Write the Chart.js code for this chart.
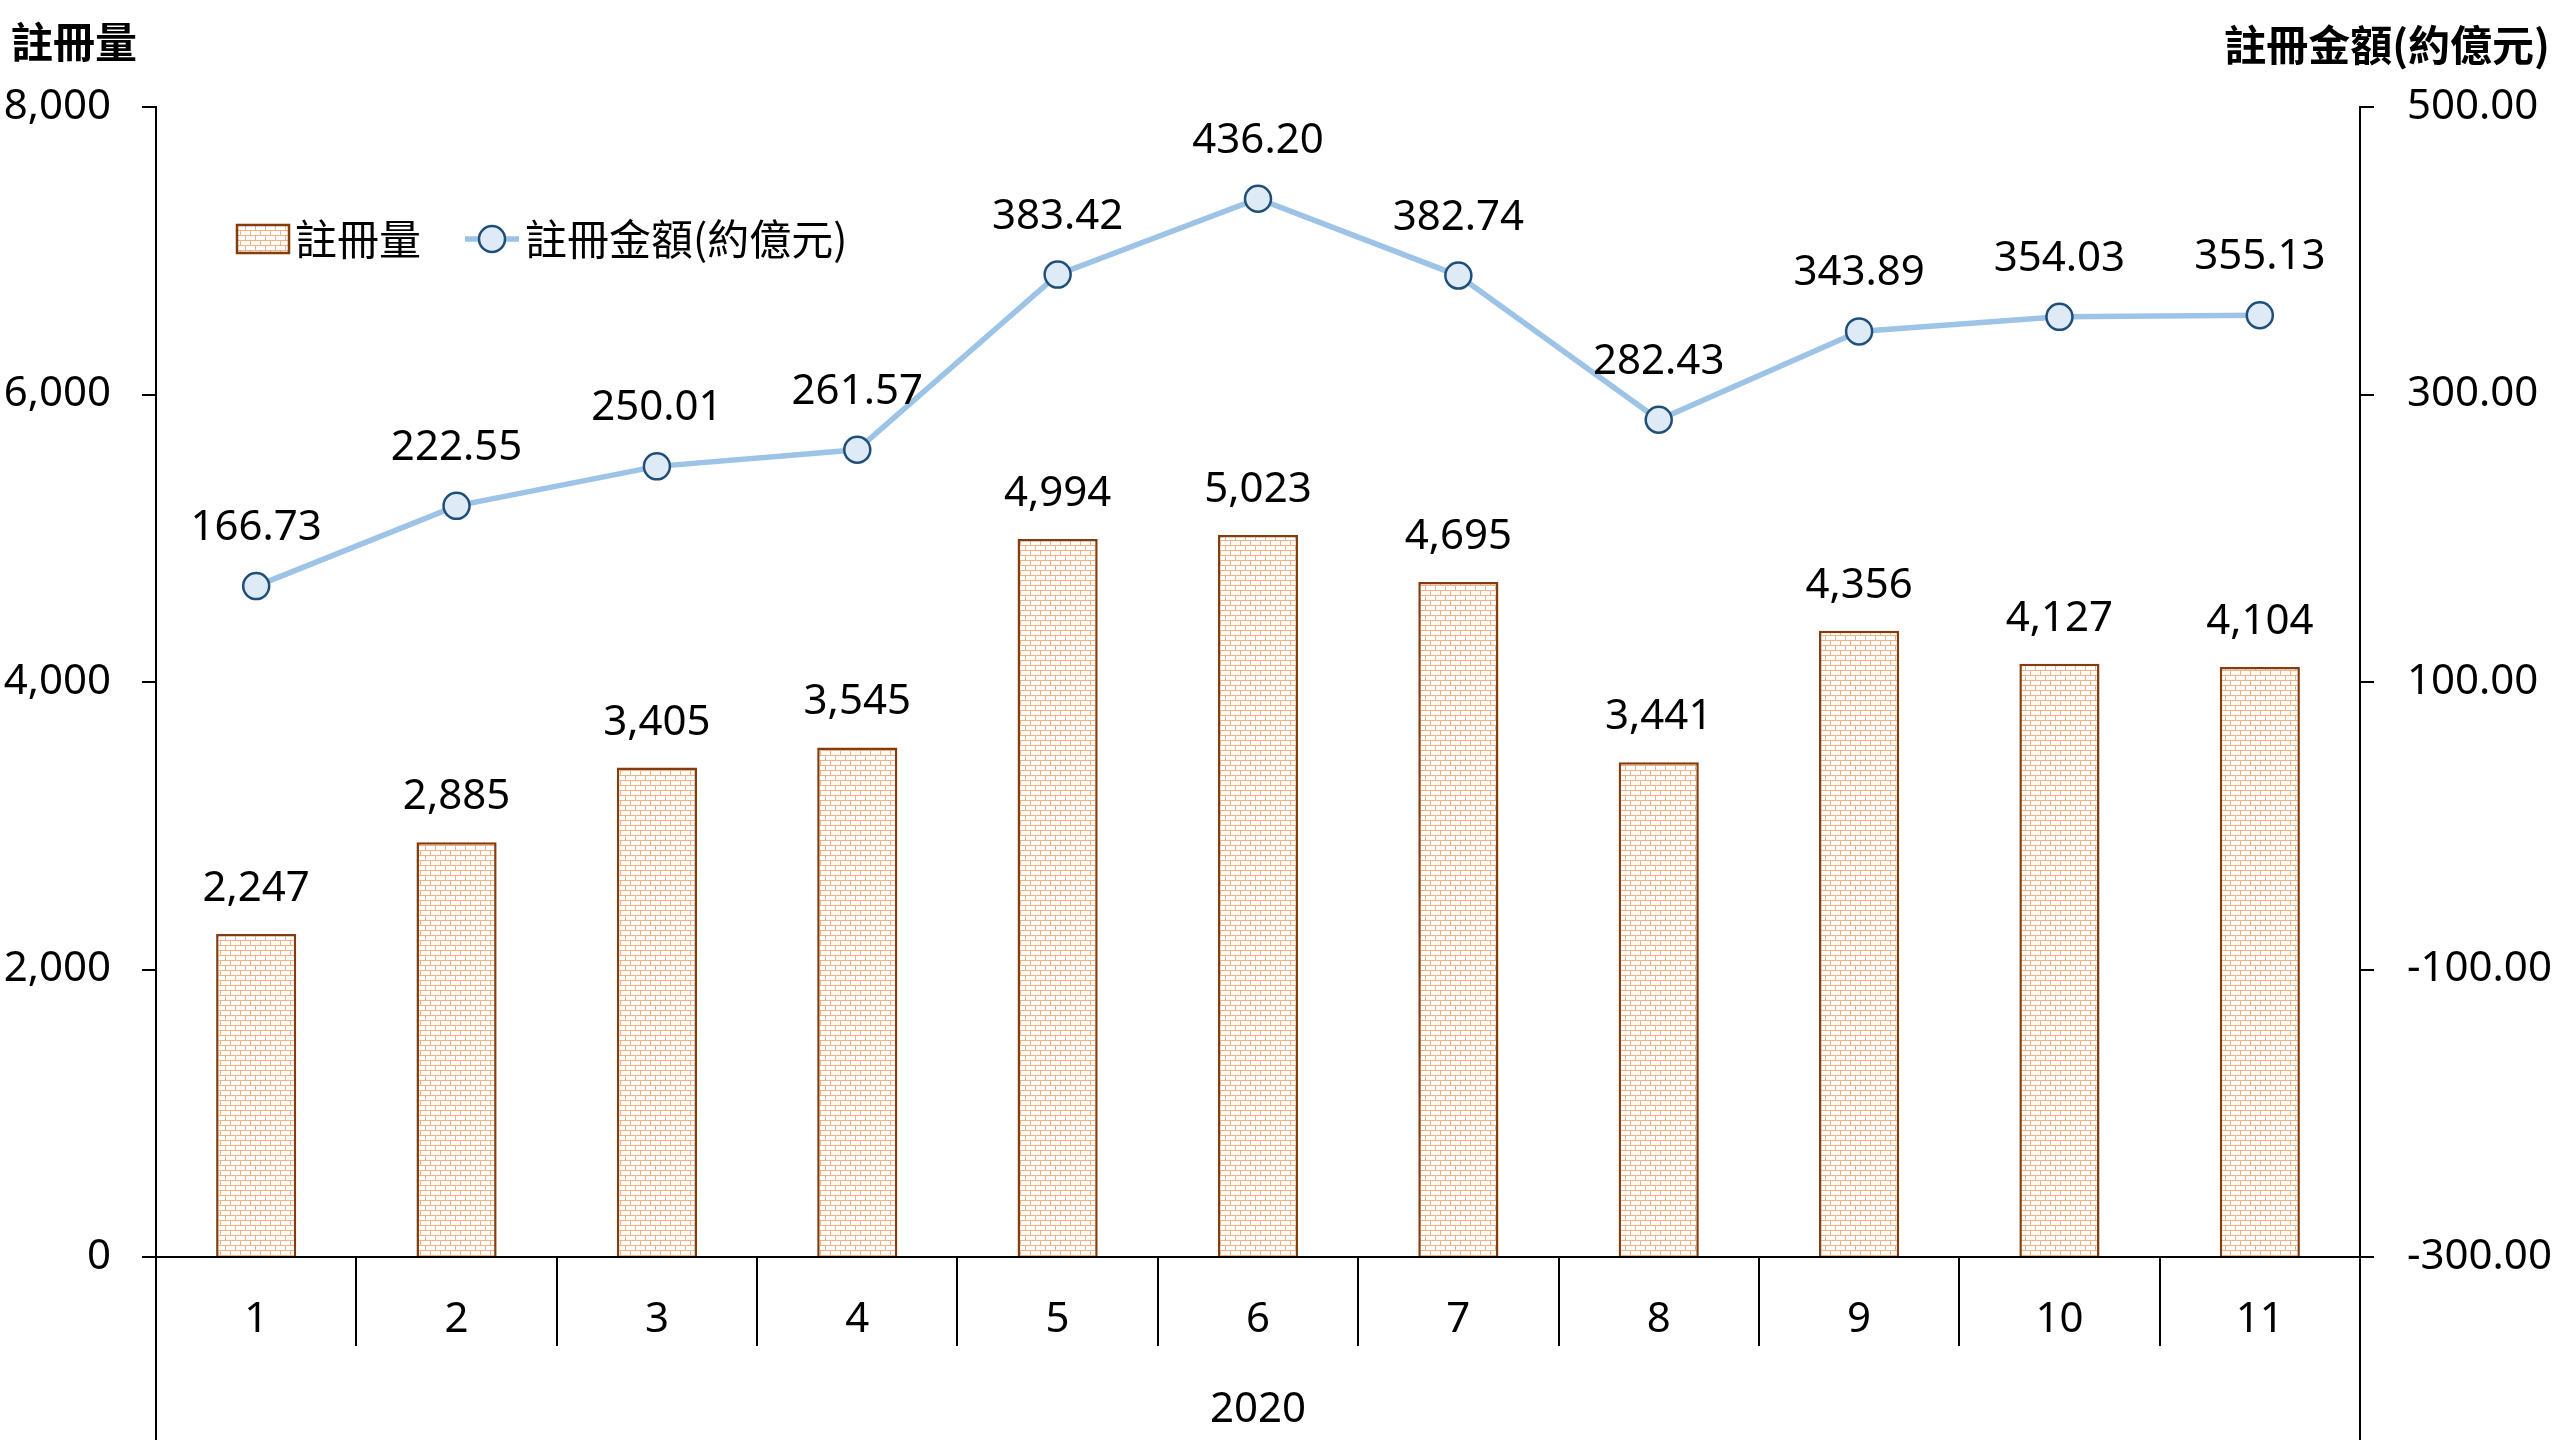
<!DOCTYPE html>
<html>
<head>
<meta charset="utf-8">
<script src="https://cdn.jsdelivr.net/npm/chart.js@4.4.1/dist/chart.umd.min.js"></script>
<style>
html,body{margin:0;padding:0;background:#ffffff;}
canvas{display:block;}
</style>
</head>
<body>
<canvas id="c" width="2560" height="1440"></canvas>
<script>
// ---- data ----
const categories = ['1','2','3','4','5','6','7','8','9','10','11'];
const groupLabel = '2020';
const registrations = [2247, 2885, 3405, 3545, 4994, 5023, 4695, 3441, 4356, 4127, 4104];
const amounts = [166.73, 222.55, 250.01, 261.57, 383.42, 436.20, 382.74, 282.43, 343.89, 354.03, 355.13];
const leftTicks = [0, 2000, 4000, 6000, 8000];
const rightTicks = [-300, -100, 100, 300, 500];
const seriesNames = ['註冊量', '註冊金額(約億元)'];
const axisTitles = ['註冊量', '註冊金額(約億元)'];

// ---- styles ----
const FONT_FAMILY = "'Noto Sans', 'Noto Sans CJK TC', sans-serif";
const CJK_FAMILY = "'Noto Sans CJK TC', 'Noto Sans', sans-serif";
const LINE_COLOR = '#9DC3E6';
const POINT_FILL = '#DEEBF7';
const POINT_BORDER = '#1F4E79';
const BAR_BORDER = '#843C0C';
const BRICK_COLOR = '#F4B183';

const canvas = document.getElementById('c');
const ctx = canvas.getContext('2d');

function brickPattern() {
  const c = document.createElement('canvas');
  c.width = 10; c.height = 10;
  const g = c.getContext('2d');
  g.fillStyle = '#ffffff';
  g.fillRect(0, 0, 10, 10);
  g.strokeStyle = BRICK_COLOR;
  g.lineWidth = 1;
  g.beginPath();
  g.moveTo(0, 0.5); g.lineTo(10, 0.5);
  g.moveTo(0, 5.5); g.lineTo(10, 5.5);
  g.moveTo(0.5, 0); g.lineTo(0.5, 5);
  g.moveTo(5.5, 5); g.lineTo(5.5, 10);
  g.stroke();
  return ctx.createPattern(c, 'repeat');
}
const pattern = brickPattern();

const tickFont = { family: FONT_FAMILY, size: 42, lineHeight: 1.2 };

function fmtInt(v) { return v.toLocaleString('en-US'); }
function fmtDec(v) { return v.toFixed(2); }

const dataLabelPlugin = {
  id: 'dataLabels',
  afterDatasetsDraw(chart) {
    const c = chart.ctx;
    c.save();
    c.font = `42px ${FONT_FAMILY}`;
    c.fillStyle = '#000';
    c.textAlign = 'center';
    c.textBaseline = 'middle';
    chart.data.datasets.forEach((ds, i) => {
      const meta = chart.getDatasetMeta(i);
      meta.data.forEach((el, j) => {
        if (ds.type === 'bar') {
          c.fillText(fmtInt(ds.data[j]), el.x, el.y - 45);
        } else {
          c.fillText(fmtDec(ds.data[j]), el.x, el.y - 58);
        }
      });
    });
    c.restore();
  }
};

const decorPlugin = {
  id: 'decor',
  afterDraw(chart) {
    const c = chart.ctx;
    const a = chart.chartArea;
    c.save();
    // extend outer axis lines down to the bottom (group separators)
    c.strokeStyle = '#000';
    c.lineWidth = 2;
    c.beginPath();
    c.moveTo(a.left, a.bottom); c.lineTo(a.left, chart.height);
    c.moveTo(a.right, a.bottom); c.lineTo(a.right, chart.height);
    c.stroke();

    // axis titles
    c.fillStyle = '#000';
    c.textBaseline = 'middle';
    c.font = `bold 42px ${CJK_FAMILY}`;
    c.textAlign = 'left';
    c.fillText(axisTitles[0], 11, 42);
    c.textAlign = 'right';
    c.fillText(axisTitles[1], 2550, 45);

    // legend
    const ly = 239;
    c.fillStyle = pattern;
    c.fillRect(237, 225, 52, 28);
    c.strokeStyle = BAR_BORDER;
    c.lineWidth = 2.5;
    c.strokeRect(237, 225, 52, 28);
    c.fillStyle = '#000';
    c.textAlign = 'left';
    c.font = `42px ${CJK_FAMILY}`;
    c.fillText(seriesNames[0], 295, ly);

    c.strokeStyle = LINE_COLOR;
    c.lineWidth = 5.5;
    c.beginPath();
    c.moveTo(465, ly); c.lineTo(519, ly);
    c.stroke();
    c.beginPath();
    c.arc(492, ly, 13, 0, Math.PI * 2);
    c.fillStyle = POINT_FILL;
    c.fill();
    c.strokeStyle = POINT_BORDER;
    c.lineWidth = 2.5;
    c.stroke();
    c.fillStyle = '#000';
    c.fillText(seriesNames[1], 525, ly);
    c.restore();
  }
};

const bgPlugin = {
  id: 'bg',
  beforeDraw(chart) {
    const c = chart.ctx;
    c.save();
    c.fillStyle = '#fff';
    c.fillRect(0, 0, chart.width, chart.height);
    c.restore();
  }
};

new Chart(ctx, {
  data: {
    labels: categories,
    datasets: [
      {
        type: 'line',
        label: seriesNames[1],
        data: amounts,
        yAxisID: 'y1',
        borderColor: LINE_COLOR,
        borderWidth: 5.5,
        pointRadius: 13,
        pointBackgroundColor: POINT_FILL,
        pointBorderColor: POINT_BORDER,
        pointBorderWidth: 2.5,
        tension: 0,
        order: 1,
        clip: false
      },
      {
        type: 'bar',
        label: seriesNames[0],
        data: registrations,
        yAxisID: 'y',
        backgroundColor: pattern,
        borderColor: BAR_BORDER,
        borderWidth: 2.5,
        barPercentage: 0.4,
        categoryPercentage: 1,
        order: 2
      }
    ]
  },
  options: {
    responsive: false,
    animation: false,
    devicePixelRatio: 1,
    layout: { padding: { top: 107, left: 0, right: 0, bottom: 0 } },
    plugins: { legend: { display: false }, tooltip: { enabled: false } },
    scales: {
      x: {
        type: 'category',
        offset: true,
        grid: { offset: true, drawOnChartArea: false, drawTicks: true, tickLength: 89, color: '#000', lineWidth: 2 },
        border: { color: '#000', width: 2 },
        ticks: { font: tickFont, color: '#000', padding: -51, maxRotation: 0, autoSkip: false },
        title: { display: true, text: groupLabel, font: tickFont, color: '#000', padding: { top: 0, bottom: 5 } },
        afterFit: s => { s.height = 183; }
      },
      y: {
        type: 'linear',
        position: 'left',
        min: leftTicks[0],
        max: leftTicks[leftTicks.length - 1],
        afterBuildTicks: s => { s.ticks = leftTicks.map(v => ({ value: v })); },
        grid: { drawOnChartArea: false, drawTicks: true, tickLength: 14, color: '#000', lineWidth: 2 },
        border: { color: '#000', width: 2 },
        ticks: { font: tickFont, color: '#000', padding: 31, callback: v => fmtInt(v) },
        afterFit: s => { s.width = 156; }
      },
      y1: {
        type: 'linear',
        position: 'right',
        min: rightTicks[0],
        max: rightTicks[rightTicks.length - 1],
        afterBuildTicks: s => { s.ticks = rightTicks.map(v => ({ value: v })); },
        grid: { drawOnChartArea: false, drawTicks: true, tickLength: 14, color: '#000', lineWidth: 2 },
        border: { color: '#000', width: 2 },
        ticks: { font: tickFont, color: '#000', padding: 33, callback: v => fmtDec(v) },
        afterFit: s => { s.width = 200; }
      }
    }
  },
  plugins: [bgPlugin, dataLabelPlugin, decorPlugin]
});
</script>
</body>
</html>
